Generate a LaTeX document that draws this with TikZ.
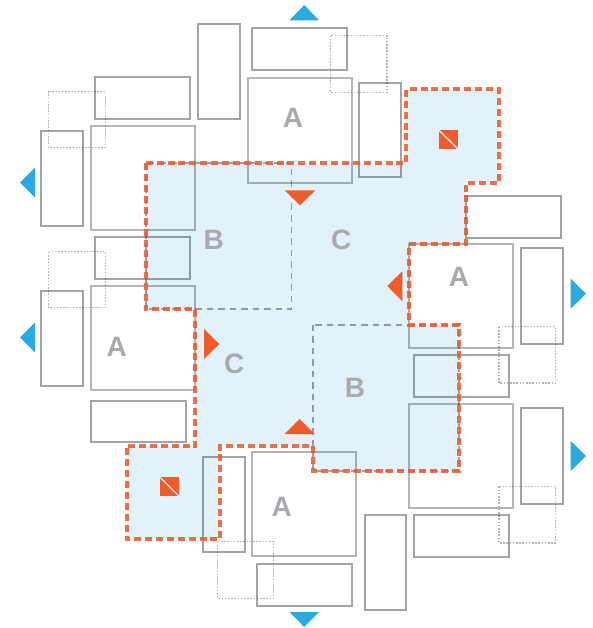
\documentclass[tikz,border=0pt]{standalone}
\usepackage{fontspec}
\setmainfont{Liberation Sans}
\usetikzlibrary{calc}
\definecolor{midgray}{HTML}{A3A4A8}
\definecolor{lightgray2}{HTML}{B5B6B9}
\definecolor{dotgray}{HTML}{B4B5B8}
\definecolor{labelgray}{HTML}{A9AAAE}
\definecolor{regionblue}{HTML}{E1F2FA}
\definecolor{accentred}{HTML}{F25A29}
\definecolor{accentblue}{HTML}{29ABE2}
\tikzset{
  midbox/.style={draw=midgray,line width=2pt,blend mode=multiply},
  bigbox/.style={draw=lightgray2,line width=2pt,blend mode=multiply},
  dotbox/.style={draw=dotgray,line width=1.3pt,dash pattern=on 1.6pt off 1.6pt,blend mode=multiply},
  grayedge/.style={draw=midgray,line width=1.8pt,dash pattern=on 6.5pt off 5pt,blend mode=multiply},
  rededge/.style={draw=accentred,line width=3.8pt,dash pattern=on 7pt off 3.9pt,opacity=.88},
  redtri/.style={fill=accentred},
  bluetri/.style={fill=accentblue},
  lbl/.style={text=labelgray,font=\fontsize{28}{28}\selectfont\bfseries,inner sep=0pt,anchor=center},
  slash/.style={draw=regionblue,line width=1.3pt}
}
\begin{document}
\begin{tikzpicture}[x=1pt,y=-1pt]
\useasboundingbox (0,0) rectangle (593,628);
% region
\fill[regionblue] (145.7,163.3) -- (406.3,163.3) -- (406.3,89.3) -- (499,89.3) -- (499,182.7) -- (465.7,182.7) -- (465.7,244) -- (409,244) -- (409,324.7) -- (458.7,324.7) -- (458.7,470.7) -- (312.7,470.7) -- (312.7,445.7) -- (220,445.7) -- (220,539) -- (126.7,539) -- (126.7,445.7) -- (195.3,445.7) -- (195.3,309.3) -- (145.7,309.3) -- cycle;
% large squares
\draw[bigbox] (91,126) rectangle (195.3,230.3);
\draw[bigbox] (247.7,78.3) rectangle (352.3,182.7);
\draw[bigbox] (91,286) rectangle (195.3,390.3);
\draw[bigbox] (409,244) rectangle (513,348);
\draw[bigbox] (409,404) rectangle (513,508);
\draw[bigbox] (251.7,451.7) rectangle (356.3,555.7);
% small boxes
\draw[midbox] (95.3,77.3) rectangle (190.3,119);
\draw[midbox] (197.7,23.7) rectangle (239.7,119);
\draw[midbox] (252.3,28.3) rectangle (347.3,70.3);
\draw[midbox] (41.3,130.7) rectangle (83,226);
\draw[midbox] (95.3,237.3) rectangle (190.3,279);
\draw[midbox] (41.3,290.7) rectangle (83,385.7);
\draw[midbox] (91,400.7) rectangle (186,442.3);
\draw[midbox] (203,456.7) rectangle (245,552);
\draw[midbox] (256.7,564) rectangle (351.7,606);
\draw[midbox] (364.7,515) rectangle (406.3,610.3);
\draw[midbox] (414,515.3) rectangle (509,557);
\draw[midbox] (521.3,408.3) rectangle (563,503.7);
\draw[midbox] (414,355.3) rectangle (509,397);
\draw[midbox] (521.3,248.3) rectangle (563,343.7);
\draw[midbox] (465.7,196.3) rectangle (561,238.3);
\draw[midbox] (359.3,82.7) rectangle (401.3,177.3);
% dotted boxes
\draw[dotbox] (48.7,91.3) rectangle (105.3,147.7);
\draw[dotbox] (48.7,251.7) rectangle (105.3,307.7);
\draw[dotbox] (330.3,35.7) rectangle (387,92.3);
\draw[dotbox] (499,326.7) rectangle (555.3,383);
\draw[dotbox] (499,486.3) rectangle (555.3,543);
\draw[dotbox] (217.3,541.7) rectangle (273.7,598.3);
% B squares, dashed
\draw[grayedge] (145.7,163.3) rectangle (291.4,309.3);
\draw[grayedge] (312.7,324.7) rectangle (458.7,470.7);
% region outline
\draw[rededge] (145.7,163.3) -- (406.3,163.3) -- (406.3,89.3) -- (499,89.3) -- (499,182.7) -- (465.7,182.7) -- (465.7,244) -- (409,244) -- (409,324.7) -- (458.7,324.7) -- (458.7,470.7) -- (312.7,470.7) -- (312.7,445.7) -- (220,445.7) -- (220,539) -- (126.7,539) -- (126.7,445.7) -- (195.3,445.7) -- (195.3,309.3) -- (145.7,309.3) -- cycle;
% blue triangles
\fill[bluetri] (289.5,20.3) -- (319,20.3) -- (304.2,5) -- cycle;
\fill[bluetri] (289.5,612) -- (319,612) -- (304.2,627) -- cycle;
\fill[bluetri] (20,182.7) -- (35,167.7) -- (35,197.7) -- cycle;
\fill[bluetri] (20,337.3) -- (35,322.3) -- (35,352.3) -- cycle;
\fill[bluetri] (586,293.7) -- (570.7,278.7) -- (570.7,308.7) -- cycle;
\fill[bluetri] (586,456) -- (570.7,441) -- (570.7,471) -- cycle;
% red triangles
\fill[redtri] (284.7,190.3) -- (315.3,190.3) -- (300,205.3) -- cycle;
\fill[redtri] (284.7,434) -- (314.7,434) -- (299.7,419) -- cycle;
\fill[redtri] (387.3,286) -- (402.3,271.3) -- (402.3,301.3) -- cycle;
\fill[redtri] (219.3,344) -- (204,329) -- (204,359) -- cycle;
% icons
\fill[redtri] (439,130.3) rectangle (457.7,148.7);
\draw[slash] (439,130.3) -- (457.7,148.7);
\fill[redtri] (160,477.3) rectangle (178.7,496);
\draw[slash] (160,477.3) -- (178.7,496);
% labels
\node[lbl] (a1) at (293,118) {A};
\node[lbl] (a2) at (459,277) {A};
\node[lbl] (a3) at (116.7,347) {A};
\node[lbl] (a4) at (281.7,507) {A};
\node[lbl] (b1) at (213.7,240) {B};
\node[lbl] (b2) at (355,388.3) {B};
\node[lbl] (c1) at (341.3,240) {C};
\node[lbl] (c2) at (234.3,364.3) {C};
\end{tikzpicture}
\end{document}
